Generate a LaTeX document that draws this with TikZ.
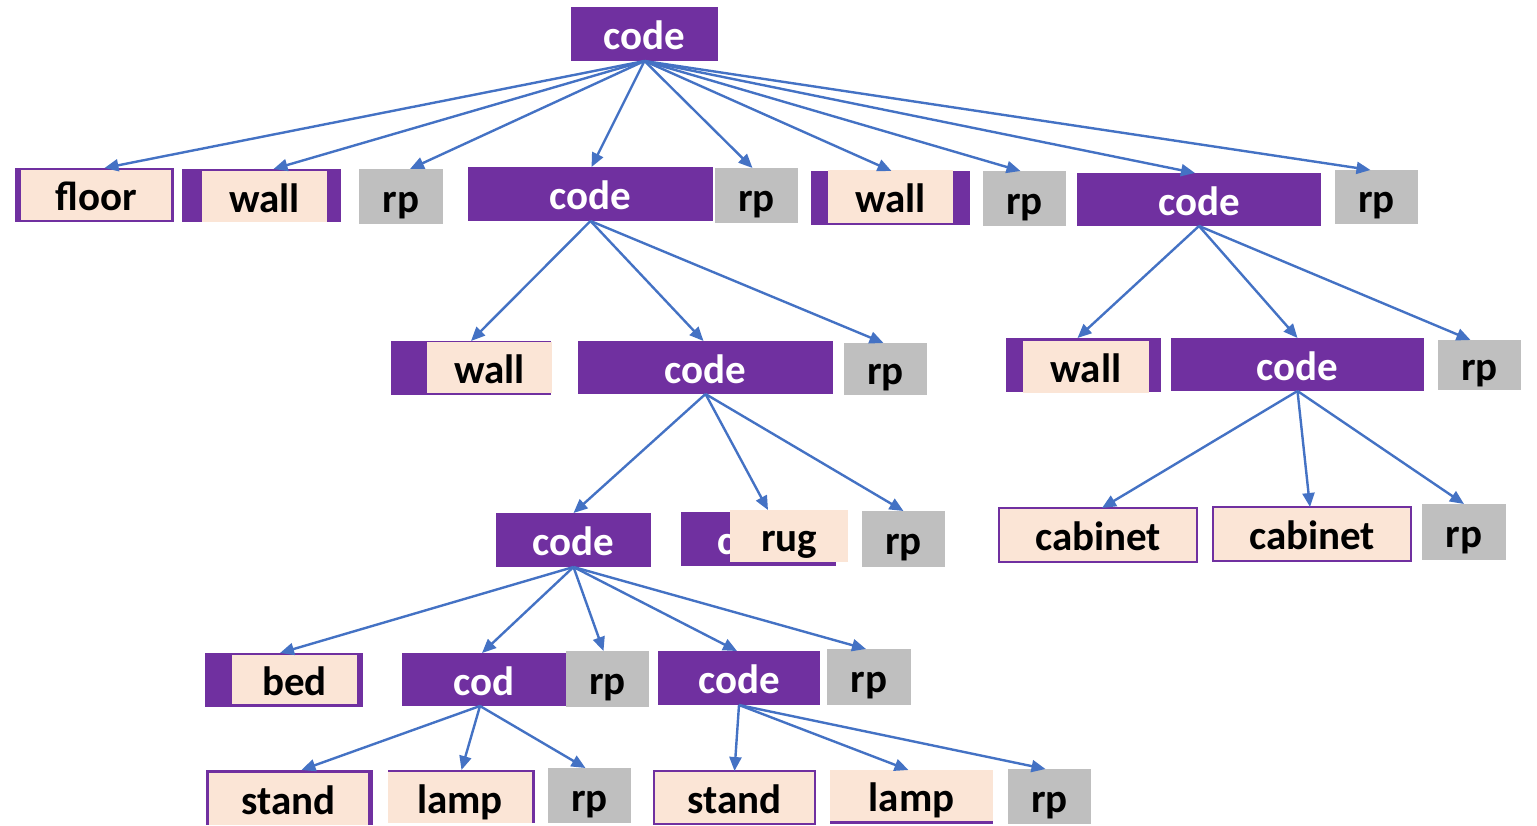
\documentclass[tikz,border=0pt]{standalone}
\usepackage{fontspec}
\setmainfont{Carlito}
\usetikzlibrary{arrows.meta}
\definecolor{vio}{HTML}{7030A0}
\definecolor{peach}{HTML}{FBE5D6}
\definecolor{greybox}{HTML}{BFBFBF}
\definecolor{link}{HTML}{4472C4}
% \mkbox{style}{name}{x1}{y1}{x2}{y2}{text}: a box given by its corners
\newcommand\mkbox[7]{\node[#1, minimum width={#5-#3}, minimum height={#6-#4}] (#2) at ({(#3+#5)/2},{(#4+#6)/2}) {#7};}
\tikzset{
  base/.style={rectangle, inner sep=0pt, outer sep=0pt,
    font=\bfseries\fontsize{41}{41}\selectfont, text height=33pt, text depth=2pt},
  codebox/.style={base, fill=vio, text=white},
  rpbox/.style={base, fill=greybox, text=black},
  band/.style={base, fill=vio},
  lbl/.style={base, fill=peach, text=black},
  framed/.style={base, fill=peach, draw=vio, line width=1.2pt, text=black},
  edge/.style={link, line width=2.4pt, -{Triangle[length=14pt,width=12pt]}}
}
\begin{document}
\begin{tikzpicture}[x=1pt, y=-1pt]
\useasboundingbox (0,0) rectangle (1537,825);

% root
\mkbox{codebox}{c0}{571}{7}{718}{61}{code}

% first level
\mkbox{band}{floor}{15}{168}{174}{222}{}
\mkbox{lbl}{floorin}{21}{170}{171}{220}{floor}
\mkbox{band}{wallA}{182}{169}{341}{222}{}
\mkbox{lbl}{wallAin}{202}{171}{327}{222}{wall}
\mkbox{rpbox}{r1}{359}{169}{443}{224}{rp}
\mkbox{codebox}{c1}{468}{167}{713}{221}{code}
\mkbox{rpbox}{r2}{715}{168}{798}{223}{rp}
\mkbox{band}{wallB}{811}{171}{970}{225}{}
\mkbox{lbl}{wallBin}{828}{170}{953}{223}{wall}
\mkbox{rpbox}{r3}{983}{171}{1066}{226}{rp}
\mkbox{codebox}{c2}{1077}{173}{1321}{226}{code}
\mkbox{rpbox}{r4}{1335}{170}{1418}{224}{rp}

% second level
\mkbox{band}{wallC}{391}{341}{551}{395}{}
\mkbox{lbl}{wallCin}{427}{342}{552}{393}{wall}
\mkbox{codebox}{c3}{578}{341}{833}{394}{code}
\mkbox{rpbox}{r5}{844}{343}{927}{395}{rp}
\mkbox{band}{wallD}{1006}{338}{1161}{392}{}
\mkbox{lbl}{wallDin}{1023}{341}{1149}{393}{wall}
\mkbox{codebox}{c4}{1171}{338}{1424}{391}{code}
\mkbox{rpbox}{r6}{1438}{340}{1521}{390}{rp}

% third level
\mkbox{codebox}{c5}{496}{513}{651}{567}{code}
\mkbox{codebox}{c6}{681}{512}{836}{566}{code}
\mkbox{lbl}{rug}{730}{510}{848}{562}{rug}
\mkbox{rpbox}{r7}{862}{511}{945}{567}{rp}
\mkbox{framed}{cabA}{999}{508}{1197}{562}{cabinet}
\mkbox{framed}{cabB}{1213}{507}{1411}{561}{cabinet}
\mkbox{rpbox}{r8}{1422}{504}{1506}{560}{rp}

% fourth level
\mkbox{band}{bed}{205}{653}{363}{707}{}
\mkbox{lbl}{bedin}{232}{655}{357}{704}{bed}
\mkbox{codebox}{cod}{402}{653}{566}{706}{cod}
\mkbox{rpbox}{r9}{566}{651}{649}{707}{rp}
\mkbox{codebox}{c7}{658}{651}{820}{705}{code}
\mkbox{rpbox}{r10}{827}{649}{911}{705}{rp}

% fifth level
\mkbox{band}{standA}{206}{770}{373}{825}{}
\mkbox{lbl}{standAin}{209}{773}{368}{825}{stand}
\mkbox{band}{lampA}{388}{770}{535}{823}{}
\mkbox{lbl}{lampAin}{388}{772}{532}{823}{lamp}
\mkbox{rpbox}{r11}{548}{768}{631}{823}{rp}
\mkbox{framed}{standB}{654}{771}{815}{824}{stand}
\mkbox{band}{lampB}{830}{770}{993}{824}{}
\mkbox{lbl}{lampBin}{830}{770}{993}{821}{lamp}
\mkbox{rpbox}{r12}{1008}{769}{1091}{824}{rp}

% connectors
\draw[edge] (c0.south) -- ([xshift=10pt]floor.north);
\draw[edge] (c0.south) -- ([xshift=12pt]wallA.north);
\draw[edge] (c0.south) -- ([xshift=9pt]r1.north);
\draw[edge] (c0.south) -- ([xshift=1pt]c1.north);
\draw[edge] (c0.south) -- ([xshift=-4pt]r2.north);
\draw[edge] (c0.south) -- ([xshift=1pt]wallB.north);
\draw[edge] (c0.south) -- ([xshift=-4pt]r3.north);
\draw[edge] (c0.south) -- ([xshift=-4pt]c2.north);
\draw[edge] (c0.south) -- ([xshift=-6pt]r4.north);

\draw[edge] (c1.south) -- (wallC.north);
\draw[edge] (c1.south) -- ([xshift=-2pt]c3.north);
\draw[edge] (c1.south) -- ([xshift=-2pt]r5.north);

\draw[edge] (c2.south) -- ([xshift=-6pt]wallD.north);
\draw[edge] (c2.south) -- (c4.north);
\draw[edge] (c2.south) -- ([xshift=-9pt]r6.north);

\draw[edge] (c3.south) -- (c5.north);
\draw[edge] (c3.south) -- ([xshift=-21pt]rug.north);
\draw[edge] (c3.south) -- (r7.north);

\draw[edge] (c4.south) -- ([xshift=4pt]cabA.north);
\draw[edge] (c4.south) -- ([xshift=-2pt]cabB.north);
\draw[edge] (c4.south) -- (r8.north);

\draw[edge] (c5.south) -- ([xshift=-4pt]bed.north);
\draw[edge] (c5.south) -- ([xshift=-2pt]cod.north);
\draw[edge] (c5.south) -- ([xshift=-4pt]r9.north);
\draw[edge] (c5.south) -- ([xshift=-2pt]c7.north);
\draw[edge] (c5.south) -- ([xshift=-3pt]r10.north);

\draw[edge] ([xshift=-4pt]cod.south) -- ([xshift=12pt]standA.north);
\draw[edge] ([xshift=-4pt]cod.south) -- (lampA.north);
\draw[edge] ([xshift=-4pt]cod.south) -- ([xshift=-4pt]r11.north);

\draw[edge] (c7.south) -- (standB.north);
\draw[edge] (c7.south) -- ([xshift=-3pt]lampB.north);
\draw[edge] (c7.south) -- ([xshift=-4pt]r12.north);
\end{tikzpicture}
\end{document}
